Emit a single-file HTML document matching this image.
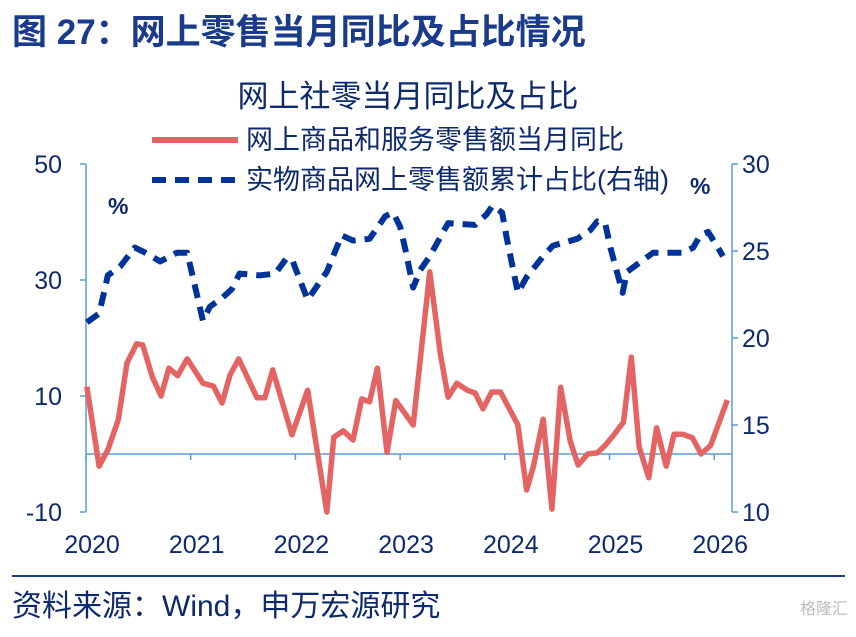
<!DOCTYPE html>
<html><head><meta charset="utf-8">
<style>
body{margin:0;background:#fff;width:856px;height:632px;overflow:hidden;font-family:"Liberation Sans","Noto Sans CJK SC",sans-serif;}
svg text{font-family:"Liberation Sans","Noto Sans CJK SC",sans-serif;}
</style></head>
<body>
<svg id="chart" width="856" height="632" xmlns="http://www.w3.org/2000/svg">
<text x="12" y="44" font-size="35" font-weight="bold" fill="#1a3a8c">图 27：网上零售当月同比及占比情况</text>
<text x="408" y="107" font-size="31" fill="#0d2a6e" text-anchor="middle">网上社零当月同比及占比</text>
<line x1="152" y1="140" x2="238" y2="140" stroke="#e46464" stroke-width="6"/>
<text x="246" y="149" font-size="27" fill="#0d2a6e">网上商品和服务零售额当月同比</text>
<line x1="152" y1="180" x2="238" y2="180" stroke="#003399" stroke-width="6" stroke-dasharray="14,9"/>
<text x="246" y="189" font-size="27" fill="#0d2a6e">实物商品网上零售额累计占比(右轴)</text>
<text x="108" y="214" font-size="23" font-weight="bold" fill="#0d2a6e">%</text>
<text x="690" y="194" font-size="23" font-weight="bold" fill="#0d2a6e">%</text>
<g id="axes"></g>
<g id="marks"></g>
<line x1="12" y1="576" x2="845" y2="576" stroke="#1a3a8c" stroke-width="2"/>
<text x="12" y="616" font-size="30" fill="#0d2a6e">资料来源：Wind，申万宏源研究</text>
<text x="800" y="614" font-size="16" fill="#bbb">格隆汇</text>
</svg>
<script>
// months since Jan 2020
const yoyMonths=[0.1,1.5,2.5,3.7,4.7,5.8,6.5,7.6,8.6,9.5,10.5,11.6,13.4,14.6,15.6,16.5,17.5,19.6,20.5,21.4,23.6,25.4,27.6,28.4,29.5,30.6,31.6,32.5,33.4,34.5,35.5,37.5,39.4,40.6,41.5,42.5,43.7,44.6,45.5,46.5,47.5,49.5,50.5,51.3,52.4,53.4,54.4,55.5,56.4,57.5,58.6,59.5,60.4,61.6,62.5,63.4,64.5,65.4,66.5,67.4,68.4,69.5,70.5,71.6,73.5];
const yoyValues=[11.6,-2.1,0.7,5.9,15.7,19,18.8,13.3,10,14.8,13.5,16.4,12.2,11.7,8.8,13.6,16.4,9.7,9.7,14.5,3.3,11,-10,2.9,4,2.4,9.5,9,14.8,0.3,9.2,5,31.4,17.4,9.8,12.2,11,10.5,7.8,10.7,10.7,5,-6.2,-2,6,-9.5,11.5,2.2,-1.9,0,0.2,1.5,3.1,5.5,16.7,1.2,-4.1,4.5,-2.1,3.4,3.4,2.8,0,1.5,9.3];
const shareMonths=[0.1,1.5,2.2,2.5,3.9,5.6,6.8,8.5,10.4,11.6,13.4,14.2,15.6,16.7,17.6,19.9,21.7,23.0,23.7,25.4,27.6,29.3,30.6,32.5,34.3,35.2,36.0,36.6,37.5,38.3,39.4,41.5,44.6,45.9,46.6,47.7,48.2,49.5,50.5,52.4,53.5,56.3,57.8,58.6,59.5,60.1,61.5,62.0,65.0,66.4,68.4,69.6,70.4,71.3,72.3,73.0];
const shareValues=[20.9,21.4,22.9,23.6,24.1,25.2,24.9,24.4,24.9,24.9,21,21.8,22.3,22.8,23.7,23.6,23.7,24.6,24.4,22.2,23.8,25.9,25.6,25.7,27,27.2,26.4,25.1,22.9,23.9,24.7,26.6,26.5,27.1,27.6,27.2,25.8,22.6,23.5,24.7,25.3,25.7,26.2,26.7,26.6,25.2,22.6,23.8,24.9,24.9,24.9,25.2,25.9,26.1,25.3,24.7];
const leftTicks=[50,30,10,-10];
const rightTicks=[30,25,20,15,10];
const yearLabels=["2020","2021","2022","2023","2024","2025","2026"];

const NS="http://www.w3.org/2000/svg";
const X0=86,X1=732,PX_M=104.7/12;
const xS=m=>X0+m*PX_M;
const yL=v=>454-v*5.8;
const yR=v=>512-(v-10)*17.4;
const axes=document.getElementById('axes'),marks=document.getElementById('marks');
function mk(tag,attrs,parent){const e=document.createElementNS(NS,tag);for(const k in attrs)e.setAttribute(k,attrs[k]);parent.appendChild(e);return e;}
const AX="#5b9bd5",TX="#0d2a6e";
let e=mk('line',{x1:X0,y1:yL(50),x2:X0,y2:yL(-10),stroke:AX,'stroke-width':1.5},axes);


e=mk('line',{x1:X1,y1:yR(30),x2:X1,y2:yR(10),stroke:AX,'stroke-width':1.5},axes);


e=mk('line',{x1:X0,y1:yL(0),x2:X1,y2:yL(0),stroke:AX,'stroke-width':1.5},axes);


leftTicks.forEach(v=>{
 const t=mk('line',{x1:X0-6,y1:yL(v),x2:X0,y2:yL(v),stroke:AX,'stroke-width':1.5},axes);
 
 
 const l=mk('text',{x:X0-24,y:yL(v)+9,'font-size':25,fill:TX,'text-anchor':'end'},axes);l.textContent=v;
 
 
});
rightTicks.forEach(v=>{
 const t=mk('line',{x1:X1,y1:yR(v),x2:X1+6,y2:yR(v),stroke:AX,'stroke-width':1.5},axes);
 
 
 const l=mk('text',{x:X1+10,y:yR(v)+9,'font-size':25,fill:TX},axes);l.textContent=v;
 
 
});
yearLabels.forEach((y,i)=>{
 const x=xS(i*12);
 const t=mk('line',{x1:x,y1:yL(0),x2:x,y2:yL(0)+6,stroke:AX,'stroke-width':1.5},axes);
 
 
 const l=mk('text',{x:x+6,y:553,'font-size':25,fill:TX,'text-anchor':'middle'},axes);l.textContent=y;
 
 
});
let p=mk('polyline',{points:shareMonths.map((m,i)=>xS(m)+','+yR(shareValues[i])).join(' '),fill:'none',stroke:'#003399','stroke-width':6,'stroke-dasharray':'14,9','stroke-linejoin':'round'},marks);


p=mk('polyline',{points:yoyMonths.map((m,i)=>xS(m)+','+yL(yoyValues[i])).join(' '),fill:'none',stroke:'#e46464','stroke-width':5.5,'stroke-linejoin':'round'},marks);


</script>
</body></html>
